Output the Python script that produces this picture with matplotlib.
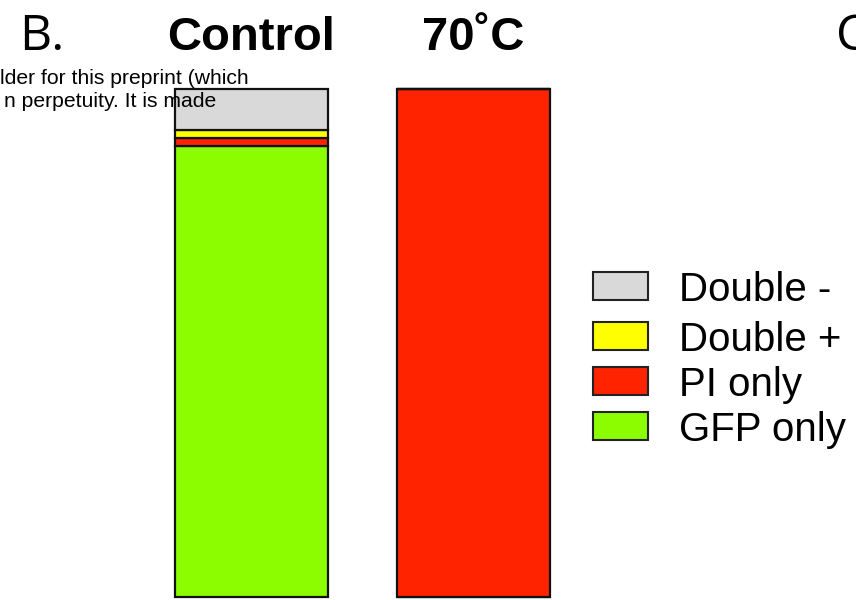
import numpy as np
import matplotlib
matplotlib.use("Agg")
import matplotlib.pyplot as plt
from matplotlib.patches import Rectangle

# --- data (percent of cells) ---
groups = ["Control", "70˚C"]
categories = ["GFP only", "PI only", "Double +", "Double -"]
values = {
    "GFP only": [88.7, 0.0],
    "PI only": [1.6, 100.0],
    "Double +": [1.6, 0.0],
    "Double -": [8.1, 0.0],
}
colors = {
    "GFP only": "#8cfc00",
    "PI only": "#ff2300",
    "Double +": "#ffff00",
    "Double -": "#d9d9d9",
}
legend_order = ["Double -", "Double +", "PI only", "GFP only"]

W, H = 856, 600
fig = plt.figure(figsize=(W / 100, H / 100), dpi=100)
ax = fig.add_axes([0, 0, 1, 1])

# bars: centre 251.5px / 473.5px, 222 px per unit, 0..100 spans 597..89 px
px_unit = 222.0
x0 = 251.5
ax.set_xlim(-x0 / px_unit, (W - x0) / px_unit)
py = (597 - 89) / 100.0
ax.set_ylim(-(H - 597) / py, 100 + 89 / py)
ax.axis("off")

x = np.arange(len(groups))
bottom = np.zeros(len(groups))
for cat in categories:
    v = np.array(values[cat])
    ax.bar(x, v, width=153 / px_unit, bottom=bottom, color=colors[cat],
           edgecolor="#111111", linewidth=1.6, zorder=2)
    bottom += v

# group titles
for xi, g in zip(x, groups):
    ax.text(xi, 1 - 50 / H, g, transform=ax.get_xaxis_transform(),
            ha="center", va="baseline", fontsize=34, fontweight="bold",
            family="Liberation Sans")

# panel letters (the "C" is cut by the right edge in the original too)
fig.text(19 / W, 1 - 50 / H, "B.", fontsize=36, family="Open Sans",
         va="baseline", ha="left")
fig.text(836 / W, 1 - 50 / H, "C", fontsize=36, family="Open Sans",
         va="baseline", ha="left")

# stray preprint watermark text
fig.text(249 / W, 1 - 84 / H, "lder for this preprint (which", fontsize=15.2,
         family="Liberation Sans", ha="right", va="baseline", zorder=5)
fig.text(216 / W, 1 - 107 / H, "n perpetuity. It is made", fontsize=15.2,
         family="Liberation Sans", ha="right", va="baseline", zorder=5)

# legend drawn by hand (uneven row spacing in the original)
row_y = [286, 336, 381, 426]
for cat, yc in zip(legend_order, row_y):
    fig.add_artist(Rectangle((593 / W, 1 - (yc + 14) / H), 55 / W, 28 / H,
                             transform=fig.transFigure, facecolor=colors[cat],
                             edgecolor="#222222", linewidth=1.5))
    fig.text(679 / W, 1 - yc / H, cat, fontsize=29, family="Liberation Sans",
             ha="left", va="center_baseline")

fig.savefig("out.png", dpi=100)
